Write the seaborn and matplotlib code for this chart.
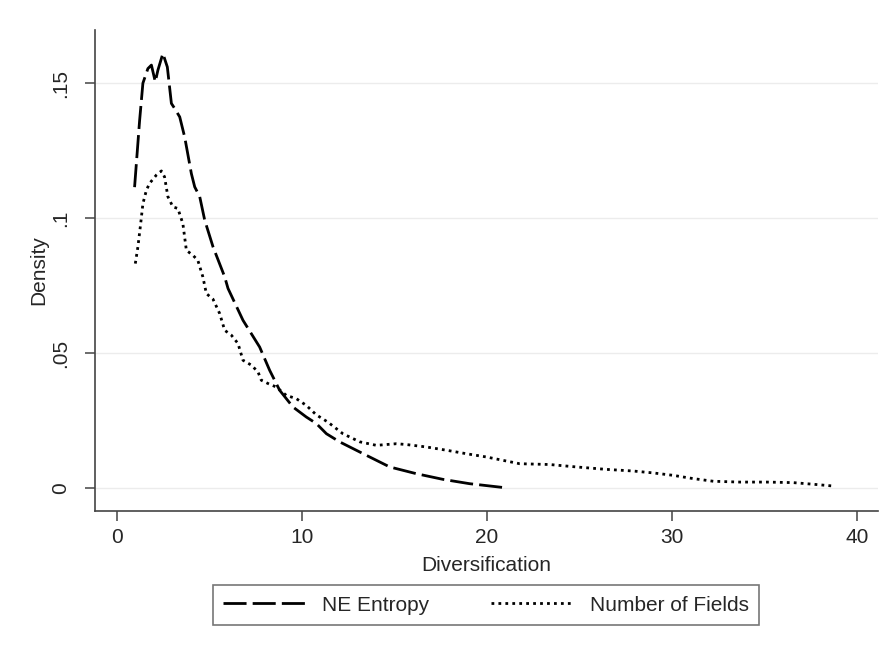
import pandas as pd
import matplotlib.pyplot as plt
import seaborn as sns

# Density curves
ne_x = [0.97, 1.24, 1.42, 1.69, 1.88, 2.09, 2.23, 2.50, 2.74, 2.96, 3.14, 3.41, 3.68,
        4.04, 4.22, 4.49, 4.76, 5.21, 5.84, 6.02, 6.83, 7.73, 8.27, 8.81, 9.53, 10.25,
        10.79, 11.34, 12.05, 13.5, 14.76, 16.2, 17.64, 19.08, 20.88]
ne_y = [0.1115, 0.136, 0.150, 0.1554, 0.1567, 0.1505, 0.1548, 0.161, 0.156, 0.1425,
        0.1406, 0.1375, 0.130, 0.1165, 0.1116, 0.108, 0.0993, 0.0894, 0.0783, 0.074,
        0.0622, 0.0523, 0.0437, 0.0363, 0.0301, 0.0264, 0.024, 0.0202, 0.0172, 0.0122,
        0.0079, 0.0054, 0.0033, 0.0017, 0.0003]

nf_x = [1.01, 1.15, 1.30, 1.42, 1.61, 1.78, 2.15, 2.42, 2.59, 2.77, 3.04, 3.31, 3.58,
        3.77, 4.12, 4.39, 4.66, 4.85, 5.21, 5.57, 5.84, 6.2, 6.56, 6.83, 7.28, 7.64,
        7.82, 8.18, 8.63, 9.17, 9.71, 10.25, 10.79, 11.42, 12.23, 13.14, 14.04, 15.12,
        15.66, 16.74, 17.82, 18.9, 19.98, 20.7, 21.78, 23.4, 24.85, 26.47, 27.91, 28.99,
        30.07, 31.15, 32.25, 33.68, 35.12, 36.56, 37.64, 38.63]
nf_y = [0.0832, 0.0894, 0.098, 0.1054, 0.1104, 0.1129, 0.116, 0.1175, 0.1153, 0.108,
        0.1042, 0.1036, 0.098, 0.0881, 0.0863, 0.0844, 0.0783, 0.0721, 0.070, 0.0647,
        0.0585, 0.0567, 0.0536, 0.0474, 0.0456, 0.0431, 0.040, 0.0388, 0.0375, 0.0344,
        0.0332, 0.0307, 0.0272, 0.0245, 0.0202, 0.0172, 0.0159, 0.0165, 0.0162, 0.0153,
        0.0141, 0.0128, 0.0116, 0.0106, 0.0091, 0.0088, 0.0079, 0.007, 0.0064, 0.0057,
        0.0048, 0.0036, 0.0026, 0.0023, 0.0023, 0.0021, 0.0015, 0.0009]

series_names = ['NE Entropy', 'Number of Fields']
x_ticks = [0, 10, 20, 30, 40]
y_ticks = [0, 0.05, 0.1, 0.15]
y_tick_labels = ['0', '.05', '.1', '.15']

df = pd.concat([
    pd.DataFrame({'x': ne_x, 'y': ne_y, 'series': series_names[0]}),
    pd.DataFrame({'x': nf_x, 'y': nf_y, 'series': series_names[1]}),
])

sns.set_style('white')
plt.rcParams['font.family'] = ['Liberation Sans', 'DejaVu Sans']

fig = plt.figure(figsize=(8.91, 6.53), dpi=100)
ax = fig.add_axes([0.1066, 0.2175, 0.8788, 0.7366])

sns.lineplot(data=df, x='x', y='y', hue='series', style='series',
             palette=['black', 'black'],
             dashes={series_names[0]: (8.3, 2.2), series_names[1]: (1.0, 1.5)},
             linewidth=2.0, ax=ax)
for line in ax.lines:
    line.set_dash_capstyle('butt')

ax.set_xlim(-1.17, 41.15)
ax.set_ylim(-0.0084, 0.1697)
ax.set_xticks(x_ticks)
ax.set_yticks(y_ticks)
ax.set_yticklabels(y_tick_labels)

ax.grid(axis='y', color='#ececec', linewidth=1.0)
ax.grid(axis='x', visible=False)
ax.set_axisbelow(True)

sns.despine(ax=ax)
for side in ['left', 'bottom']:
    ax.spines[side].set_color('#444444')
    ax.spines[side].set_linewidth(1.2)

ax.tick_params(axis='x', direction='out', length=7, width=1.1, color='#444444',
               labelsize=15, pad=5, bottom=True)
ax.tick_params(axis='y', direction='out', length=7, width=1.1, color='#444444',
               labelsize=15, pad=11, left=True, labelrotation=90)
for lab in ax.get_yticklabels():
    lab.set_va('center')

ax.set_xlabel('Diversification', fontsize=15, labelpad=7)
ax.set_ylabel('Density', fontsize=15, labelpad=2)

handles, labels = ax.get_legend_handles_labels()
ax.get_legend().remove()
leg = fig.legend(handles, labels, loc='center', bbox_to_anchor=(0.5455, 0.0735),
                 ncol=2, fontsize=15, frameon=True, fancybox=False,
                 handlelength=3.92, handletextpad=0.8, columnspacing=3.0,
                 borderpad=0.5)
leg.get_frame().set_edgecolor('#555555')
leg.get_frame().set_linewidth(1.2)
for h in leg.get_lines():
    h.set_linewidth(2.0)
    h.set_dash_capstyle('butt')

fig.savefig('out.png', dpi=100)
